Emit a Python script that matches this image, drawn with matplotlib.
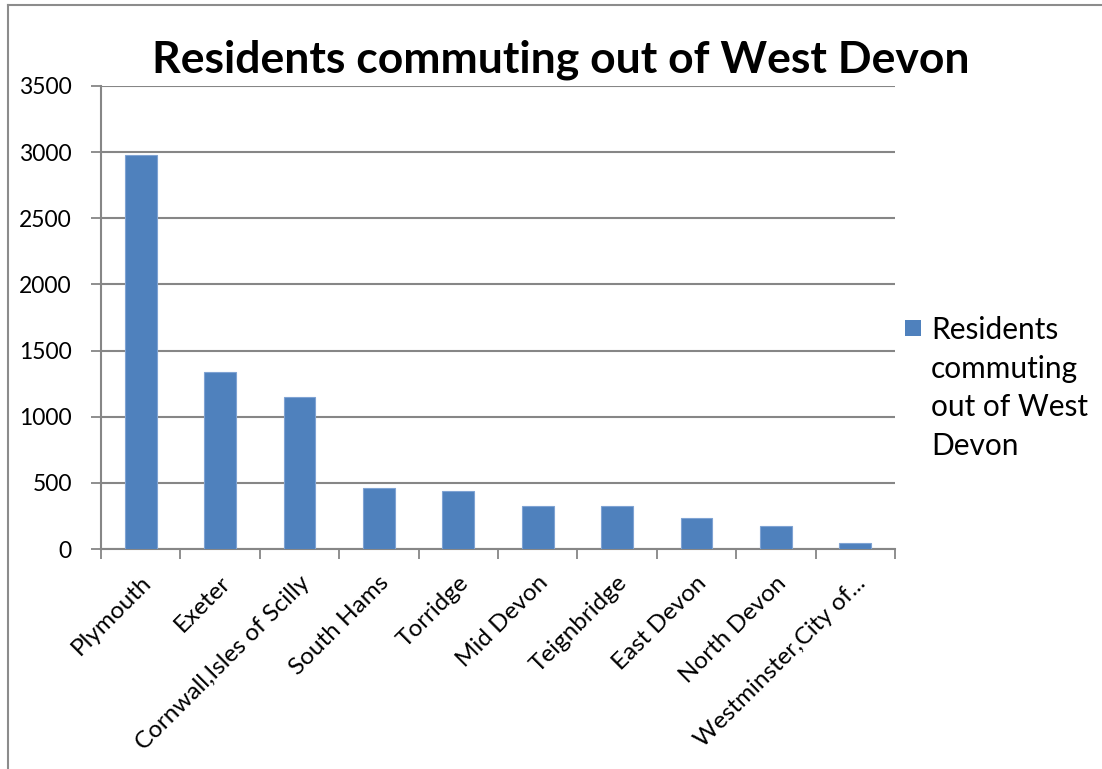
import matplotlib
matplotlib.use("Agg")
import matplotlib.pyplot as plt
from matplotlib.patches import Rectangle
from matplotlib.lines import Line2D

# Destinations of West Devon out-commuters
destinations = ["Plymouth", "Exeter", "Cornwall,Isles of Scilly", "South Hams",
                "Torridge", "Mid Devon", "Teignbridge", "East Devon",
                "North Devon", "Westminster,City of..."]
commuters = [2975, 1337, 1147, 458, 438, 325, 322, 234, 171, 43]
y_ticks = [0, 500, 1000, 1500, 2000, 2500, 3000, 3500]

series_name = "Residents commuting out of West Devon"
legend_label = "Residents\ncommuting\nout of West\nDevon"

BAR = "#4F81BD"
GRID = "#868686"
FONT = "Lato"

W, H = 1102, 769
fig = plt.figure(figsize=(W / 100, H / 100), dpi=100)
ax = fig.add_axes([101 / W, 1 - 549 / H, 794 / W, 463 / H])

x = list(range(len(destinations)))
ax.bar(x, commuters, width=0.4, color=BAR, edgecolor="#7FA3D3", linewidth=0.8, zorder=3)

ax.set_xlim(-0.5, len(destinations) - 0.5)
ax.set_ylim(0, 3500)
ax.set_yticks(y_ticks)
ax.set_yticklabels([str(v) for v in y_ticks], fontsize=16.5, family=FONT)
ax.yaxis.grid(True, color=GRID, linewidth=1.5, zorder=0)

# category tick marks sit on the boundaries between bars
ax.set_xticks([i - 0.5 for i in range(len(destinations) + 1)])
ax.set_xticklabels([])
ax.tick_params(axis="x", length=7, width=1.3, color=GRID, direction="out")
ax.tick_params(axis="y", length=7, width=1.3, color=GRID, direction="out", pad=14)

for side in ("top", "right"):
    ax.spines[side].set_visible(False)
for side in ("left", "bottom"):
    ax.spines[side].set_color(GRID)
    ax.spines[side].set_linewidth(1.5)

for i, name in enumerate(destinations):
    ax.annotate(name, xy=(i, 0), xycoords="data", xytext=(5, -22),
                textcoords="offset points", rotation=45, rotation_mode="anchor",
                ha="right", va="center", fontsize=17.5, family=FONT)

fig.text(561 / W, 1 - 60 / H, series_name, ha="center", va="center",
         fontsize=32, fontweight="bold", family=FONT)

# legend key and wrapped series name
fig.add_artist(Rectangle((905 / W, 1 - 336 / H), 16 / W, 16 / H,
                         transform=fig.transFigure, facecolor=BAR, edgecolor="none"))
fig.text(931 / W, 1 - 316 / H, legend_label, ha="left", va="top",
         fontsize=21.5, family=FONT, linespacing=1.46)

# chart area border
fig.add_artist(Line2D([8 / W, 8 / W], [0, 1 - 5 / H], transform=fig.transFigure,
                      color="#8C8C8C", linewidth=1.5))
fig.add_artist(Line2D([8 / W, 1], [1 - 5 / H, 1 - 5 / H], transform=fig.transFigure,
                      color="#8C8C8C", linewidth=1.5))

fig.savefig("out.png", dpi=100, facecolor="white")
